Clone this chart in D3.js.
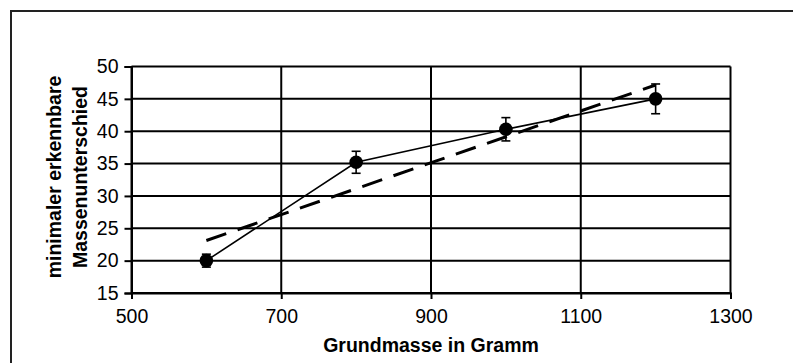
<!DOCTYPE html>
<html>
<head>
<meta charset="utf-8">
<script src="https://cdn.jsdelivr.net/npm/d3@7"></script>
<style>
  html, body { margin: 0; padding: 0; background: #fff; }
  svg { display: block; font-family: "Liberation Sans", Arial, sans-serif; }
</style>
</head>
<body>
<svg id="chart" width="793" height="363"></svg>
<script>
// ---- data ----
const grundmasse = [600, 800, 1000, 1200];
const unterschied = [20.0, 35.2, 40.3, 45.0];
const fehler = [1.0, 1.7, 1.8, 2.3];
const xTicks = [500, 700, 900, 1100, 1300];
const yTicks = [15, 20, 25, 30, 35, 40, 45, 50];
const xTitle = "Grundmasse in Gramm";
const yTitleLines = ["minimaler erkennbare", "Massenunterschied"];

const svg = d3.select("#chart");

// outer frame
svg.append("rect")
  .attr("x", 11).attr("y", 11)
  .attr("width", 800).attr("height", 400)
  .attr("fill", "none").attr("stroke", "#222").attr("stroke-width", 2);

const x = d3.scaleLinear().domain([500, 1300]).range([131.5, 730.5]);
const y = d3.scaleLinear().domain([15, 50]).range([293, 66.5]);

// gridlines
const g = svg.append("g");
g.selectAll("line.hg").data(yTicks).join("line")
  .attr("x1", x(500)).attr("x2", x(1300))
  .attr("y1", d => y(d)).attr("y2", d => y(d))
  .attr("stroke", "#000").attr("stroke-width", 2);
g.selectAll("line.vg").data(xTicks).join("line")
  .attr("y1", y(15)).attr("y2", y(50))
  .attr("x1", d => x(d)).attr("x2", d => x(d))
  .attr("stroke", "#000").attr("stroke-width", 2);

// axes
const xAxis = d3.axisBottom(x).tickValues(xTicks).tickSize(6).tickPadding(10).tickFormat(d3.format("d"));
const yAxis = d3.axisLeft(y).tickValues(yTicks).tickSize(7).tickPadding(6).tickFormat(d3.format("d"));

const gx = svg.append("g").attr("transform", `translate(0,${y(15)})`).call(xAxis);
const gy = svg.append("g").attr("transform", `translate(${x(500)},0)`).call(yAxis);
[gx, gy].forEach(a => {
  a.select(".domain").attr("stroke", "#000").attr("stroke-width", 2);
  a.selectAll(".tick line").attr("stroke", "#000").attr("stroke-width", 2);
  a.selectAll(".tick text").attr("fill", "#000")
    .style("font-size", "19.5px").style("font-family", "'Liberation Sans', Arial, sans-serif");
});

// trendline (linear least squares fit of the data)
const mx = d3.mean(grundmasse), my = d3.mean(unterschied);
const slope = d3.sum(grundmasse.map((v, i) => (v - mx) * (unterschied[i] - my))) /
              d3.sum(grundmasse.map(v => (v - mx) * (v - mx)));
const icpt = my - slope * mx;
const tx = [d3.min(grundmasse), d3.max(grundmasse)];
svg.append("line")
  .attr("x1", x(tx[0])).attr("y1", y(icpt + slope * tx[0]))
  .attr("x2", x(tx[1])).attr("y2", y(icpt + slope * tx[1]))
  .attr("stroke", "#000").attr("stroke-width", 3)
  .attr("stroke-dasharray", "21,12");

// data line
const pts = grundmasse.map((v, i) => [v, unterschied[i], fehler[i]]);
svg.append("path")
  .datum(pts)
  .attr("d", d3.line().x(d => x(d[0])).y(d => y(d[1])))
  .attr("fill", "none").attr("stroke", "#000").attr("stroke-width", 1.6);

// error bars
const eb = svg.append("g").attr("stroke", "#000").attr("stroke-width", 1.6);
eb.selectAll("line.v").data(pts).join("line")
  .attr("x1", d => x(d[0])).attr("x2", d => x(d[0]))
  .attr("y1", d => y(d[1] - d[2])).attr("y2", d => y(d[1] + d[2]));
eb.selectAll("line.t").data(pts).join("line")
  .attr("x1", d => x(d[0]) - 4.5).attr("x2", d => x(d[0]) + 4.5)
  .attr("y1", d => y(d[1] + d[2])).attr("y2", d => y(d[1] + d[2]));
eb.selectAll("line.b").data(pts).join("line")
  .attr("x1", d => x(d[0]) - 4.5).attr("x2", d => x(d[0]) + 4.5)
  .attr("y1", d => y(d[1] - d[2])).attr("y2", d => y(d[1] - d[2]));

// markers
svg.append("g").selectAll("circle").data(pts).join("circle")
  .attr("cx", d => x(d[0])).attr("cy", d => y(d[1])).attr("r", 6.8)
  .attr("fill", "#000");

// axis titles
svg.append("text")
  .attr("x", (x(500) + x(1300)) / 2).attr("y", 352)
  .attr("text-anchor", "middle")
  .style("font-size", "19.5px").style("font-weight", "bold")
  .text(xTitle);

const yt = svg.append("text")
  .attr("transform", `translate(0,177) rotate(-90)`)
  .attr("text-anchor", "middle")
  .style("font-size", "19.5px").style("font-weight", "bold");
yTitleLines.forEach((t, i) => {
  yt.append("tspan").attr("x", 0).attr("y", i === 0 ? 61 : 87).text(t);
});
</script>
</body>
</html>
